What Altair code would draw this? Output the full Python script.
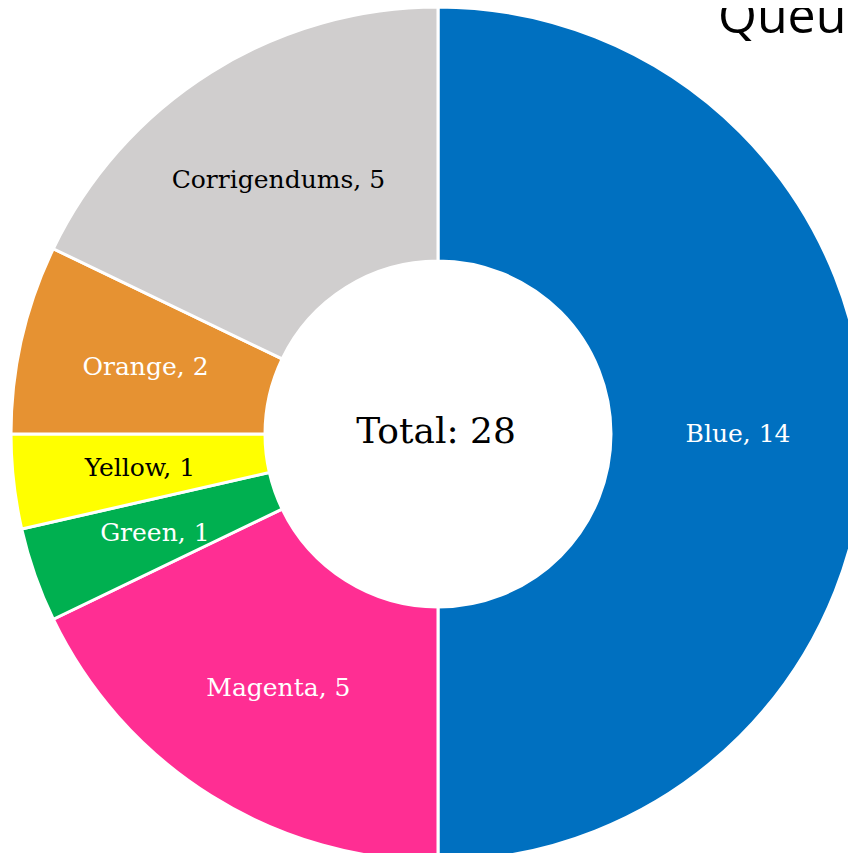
import altair as alt
import pandas as pd

categories = ["Blue", "Magenta", "Green", "Yellow", "Orange", "Corrigendums"]
values = [14, 5, 1, 1, 2, 5]
colors = ["#0070C0", "#FF2E93", "#00B050", "#FFFF00", "#E69232", "#D0CECE"]
label_colors = ["white", "white", "white", "black", "white", "black"]
title_text = "Queue"
total_text = "Total: 28"

df = pd.DataFrame({
    "category": categories,
    "value": values,
    "order": list(range(len(categories))),
    "label": [f"{c}, {v}" for c, v in zip(categories, values)],
    "tcolor": label_colors,
})

CX, CY = 430, 426

base = alt.Chart(df).encode(
    theta=alt.Theta("value:Q", stack=True),
    order=alt.Order("order:Q"),
    x=alt.value(CX),
    y=alt.value(CY),
)

arcs = base.mark_arc(outerRadius=427, innerRadius=173, stroke="white", strokeWidth=3).encode(
    color=alt.Color("category:N", scale=alt.Scale(domain=categories, range=colors), legend=None)
)

labels = base.mark_text(radius=300, font="DejaVu Serif", fontSize=25).encode(
    text="label:N",
    color=alt.Color("tcolor:N", scale=None),
)

total = alt.Chart(pd.DataFrame({"t": [total_text]})).mark_text(
    font="DejaVu Serif", fontSize=36, color="black"
).encode(text="t:N", x=alt.value(CX - 2), y=alt.value(CY - 2))

title = alt.Chart(pd.DataFrame({"t": [title_text]})).mark_text(
    font="Open Sans", fontSize=50, color="black", align="left", baseline="alphabetic"
).encode(text="t:N", x=alt.value(710), y=alt.value(25))

chart = alt.layer(arcs, labels, total, title).properties(
    width=840, height=845, padding=0, autosize=alt.AutoSizeParams(type="none")
).configure_view(strokeWidth=0)

chart.save("out.html", embed_options={"renderer": "svg", "actions": False})
